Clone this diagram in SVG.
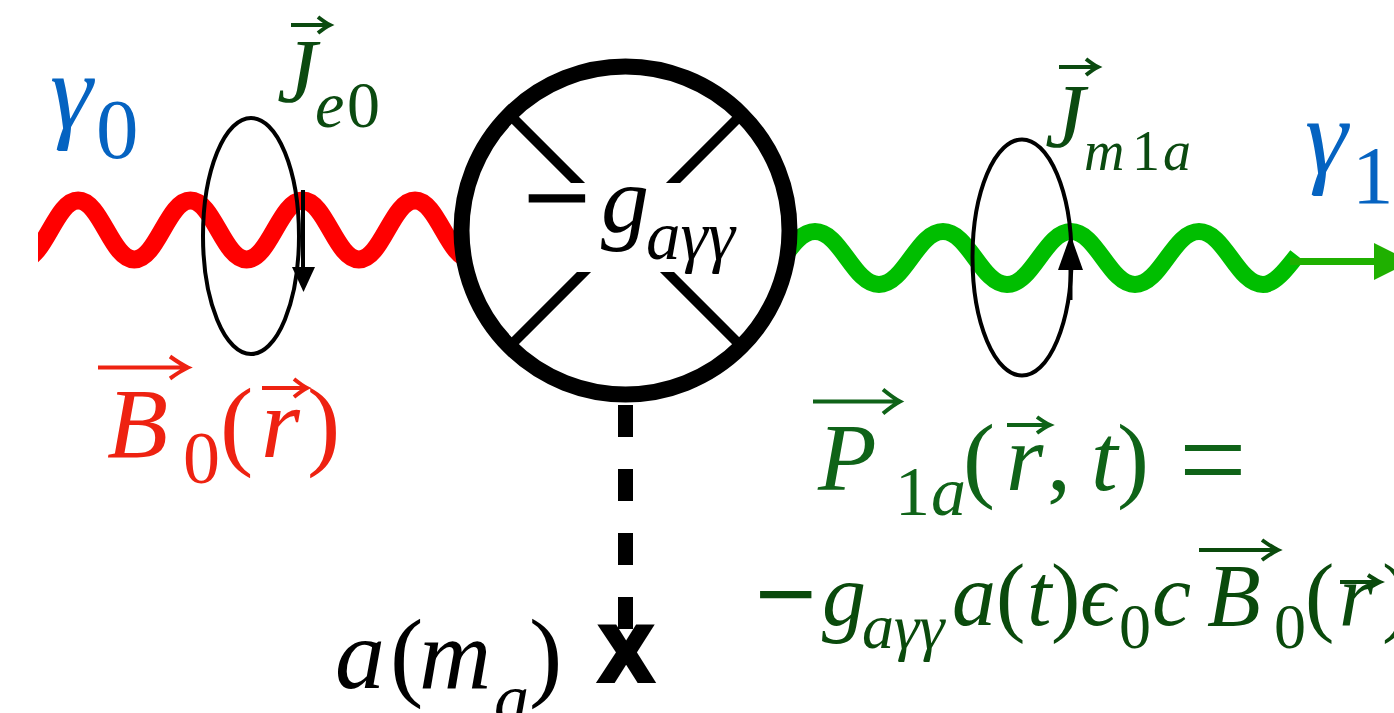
<svg xmlns="http://www.w3.org/2000/svg" width="1394" height="713" viewBox="0 0 1394 713">
<style>
text{font-family:"Liberation Serif","DejaVu Serif","Noto Serif","Tinos","Times New Roman","Times",serif}
.it{font-style:italic}
.up{font-style:normal}
.vec{fill:none;stroke-width:4}
.loop{fill:none;stroke:#000;stroke-width:4}
.blue{fill:#0563C1}
.red{fill:#EE2211}
.jg{fill:#0B4A10}
.l1{fill:#0F6318}
.l2{fill:#0A4A0C}
</style>
<defs>
<clipPath id="leftClip"><rect x="38" y="0" width="600" height="713"/></clipPath>
<clipPath id="bandClip"><rect x="0" y="0" width="1394" height="183"/><rect x="0" y="272" width="1394" height="441"/></clipPath>
</defs>
<rect width="1394" height="713" fill="#fff"/>
<g id="connectors">
<path id="wave-in" clip-path="url(#leftClip)" fill="none" stroke="#FF0000" stroke-width="18" d="M22 259.5 C44.5 259.5 55.7 200.5 78.15 200.5 S111.8 259.5 134.3 259.5 S168 200.5 190.45 200.5 S224.1 259.5 246.6 259.5 S280.3 200.5 302.75 200.5 S336.4 259.5 358.9 259.5 S392.6 200.5 415.05 200.5 S448.7 259.5 471.2 259.5"/>
<path id="wave-out" fill="none" stroke="#00BE00" stroke-width="17" d="M751 284.5 C776.6 284.5 789.4 231.5 815 231.5 S853.4 284.5 879 284.5 S917.4 231.5 943 231.5 S981.4 284.5 1007 284.5 S1045.4 231.5 1071 231.5 S1109.4 284.5 1135 284.5 S1173.4 231.5 1199 231.5 S1237.4 284.5 1263 284.5 C1274.3 284.5 1285.7 270 1297 255.5"/>
<g id="out-arrow">
<line x1="1290" y1="261.5" x2="1376" y2="261.5" stroke="#1FB000" stroke-width="7"/>
<polygon points="1374,243 1411,261.5 1374,280" fill="#1FB000"/>
</g>
<line id="axion-line" x1="625.5" y1="405" x2="625.5" y2="629" stroke="#000" stroke-width="15" stroke-dasharray="32 32"/>
</g>
<g id="loop-e0">
<ellipse class="loop" cx="251" cy="236" rx="48" ry="118"/>
<line x1="303" y1="190" x2="303" y2="270" stroke="#000" stroke-width="4"/>
<polygon points="292,267 315,267 303.5,292" fill="#000"/>
</g>
<g id="loop-m1a">
<ellipse class="loop" cx="1022" cy="257.5" rx="49.5" ry="118"/>
<line x1="1070.5" y1="300" x2="1070.5" y2="266" stroke="#000" stroke-width="4"/>
<polygon points="1058,270 1083,270 1070.5,235" fill="#000"/>
</g>
<g id="vertex">
<circle cx="625.5" cy="230.5" r="164" fill="#fff"/>
<g clip-path="url(#bandClip)" stroke="#000" stroke-width="10">
<line x1="512.5" y1="117.5" x2="738.5" y2="343.5"/>
<line x1="738.5" y1="117.5" x2="512.5" y2="343.5"/>
</g>
<circle cx="625.5" cy="230.5" r="164" fill="none" stroke="#000" stroke-width="16"/>
<text class="up" x="524" y="237" font-size="116" stroke="#000" stroke-width="2.5">−</text>
<text class="it" x="601" y="232" font-size="96">g</text>
<text class="it" x="646" y="259" font-size="69">aγγ</text>
</g>
<g id="axion-source">
<text x="626" y="680" style="font-family:'Liberation Sans',Arial,sans-serif" font-weight="bold" font-size="76" text-anchor="middle" stroke="#000" stroke-width="6">X</text>
<text class="it" font-size="100" y="688"><tspan x="335">a</tspan><tspan class="up" x="390">(</tspan><tspan x="419">m</tspan><tspan x="494" y="722" font-size="70">a</tspan><tspan class="up" x="529" y="688">)</tspan></text>
</g>
<g id="label-gamma0" class="blue">
<text class="it" x="50" y="128" font-size="108">γ</text>
<text class="up" x="96" y="158" font-size="85">0</text>
</g>
<g id="label-gamma1" class="blue">
<text class="it" x="1305" y="173" font-size="108">γ</text>
<text class="up" x="1352" y="203" font-size="83">1</text>
</g>
<g id="label-Je0" class="jg">
<text class="it" x="277" y="102" font-size="90">J</text>
<text class="it" x="315" y="127" font-size="66">e</text>
<text class="up" x="347" y="127" font-size="66">0</text>
<path class="vec" stroke="#0B4A10" d="M291 25H330M318 17Q325.2 22.6 330 25Q325.2 27.4 318 33"/>
</g>
<g id="label-Jm1a" class="jg">
<text class="it" x="1045" y="147" font-size="90">J</text>
<text class="it" x="1084" y="170" font-size="56">m</text>
<text class="up" x="1132" y="170" font-size="56">1</text>
<text class="it" x="1163" y="170" font-size="56">a</text>
<path class="vec" stroke="#0B4A10" d="M1059 67H1098M1086 59Q1093.2 64.6 1098 67Q1093.2 69.4 1086 75"/>
</g>
<g id="label-B0" class="red">
<text class="it" x="107" y="457" font-size="100">B</text>
<text class="up" x="183" y="483" font-size="74">0</text>
<text class="up" x="220" y="457" font-size="100">(</text>
<text class="it" x="261" y="457" font-size="100">r</text>
<text class="up" x="307" y="457" font-size="100">)</text>
<path class="vec" stroke="#EE2211" d="M98 367.5H188M170 356.5Q180.8 364.2 188 367.5Q180.8 370.8 170 378.5"/>
<path class="vec" stroke="#EE2211" d="M262 388H307M294 379Q301.8 385.3 307 388Q301.8 390.7 294 397"/>
</g>
<g id="label-P1a" class="l1">
<text class="it" x="818" y="490" font-size="96">P</text>
<text class="up" x="895" y="515" font-size="70">1</text>
<text class="it" x="931" y="515" font-size="70">a</text>
<text class="up" x="963" y="490" font-size="96">(</text>
<text class="it" x="1006" y="490" font-size="96">r</text>
<text class="up" x="1047" y="490" font-size="96">,</text>
<text class="it" x="1091" y="490" font-size="96">t</text>
<text class="up" x="1117" y="490" font-size="96">)</text>
<text class="up" x="1179" y="500" font-size="120">=</text>
<path class="vec" stroke="#0F6318" d="M813 401.5H900M883 389.5Q893.2 397.9 900 401.5Q893.2 405.1 883 413.5"/>
<path class="vec" stroke="#0F6318" d="M1007 425H1050M1037 417Q1044.8 422.6 1050 425Q1044.8 427.4 1037 433"/>
</g>
<g id="label-P1a-rhs" class="l2">
<text class="up" x="756" y="630" font-size="106" stroke="#0A4A0C" stroke-width="2">−</text>
<text class="it" x="822" y="625" font-size="88">g</text>
<text class="it" x="862" y="648" font-size="64">aγγ</text>
<text class="it" x="952" y="625" font-size="88">a</text>
<text class="up" x="996" y="625" font-size="88">(</text>
<text class="it" x="1027" y="625" font-size="88">t</text>
<text class="up" x="1051" y="625" font-size="88">)</text>
<text class="it" x="1080" y="625" font-size="88">ϵ</text>
<text class="up" x="1119" y="648" font-size="64">0</text>
<text class="it" x="1152" y="625" font-size="88">c</text>
<text class="it" x="1207" y="625" font-size="88">B</text>
<text class="up" x="1274" y="648" font-size="64">0</text>
<text class="up" x="1305" y="625" font-size="88">(</text>
<text class="it" x="1339" y="625" font-size="88">r</text>
<text class="up" x="1382" y="625" font-size="88">)</text>
<path class="vec" stroke="#0A4A0C" d="M1199 550H1278M1262 540Q1271.6 547 1278 550Q1271.6 553 1262 560"/>
<path class="vec" stroke="#0A4A0C" d="M1340 582H1380M1368 575Q1375.2 579.9 1380 582Q1375.2 584.1 1368 589"/>
</g>
</svg>
